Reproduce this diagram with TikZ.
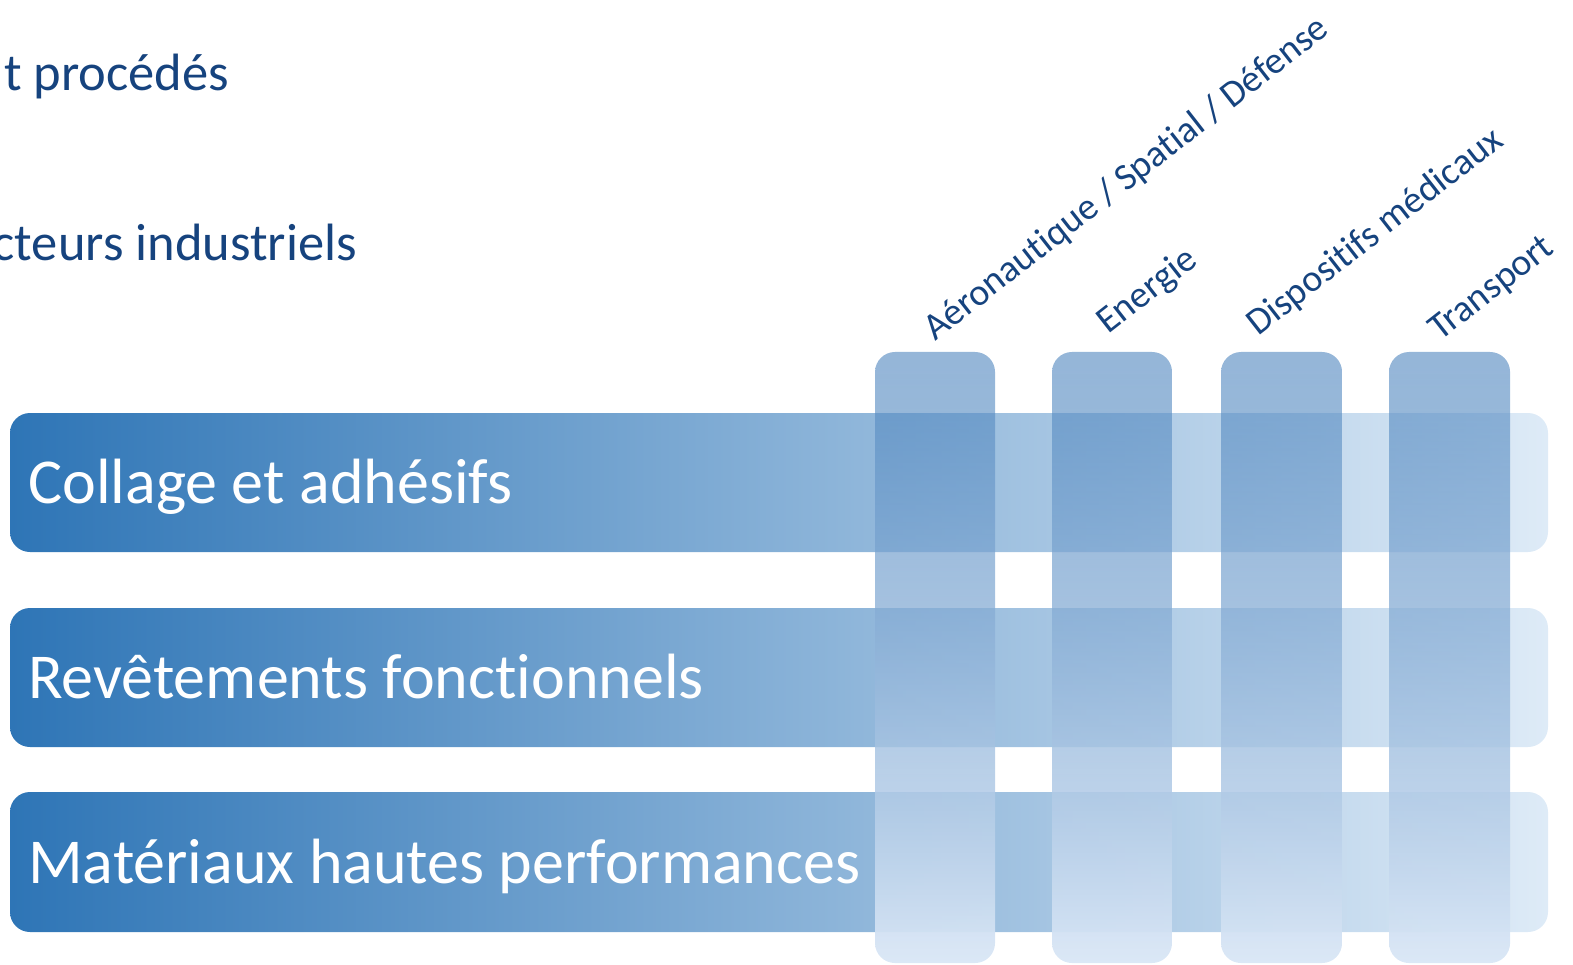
\documentclass[tikz,border=0pt]{standalone}
\usepackage{fontspec}
\setmainfont{Carlito}[Ligatures={NoCommon}]
\usetikzlibrary{fadings}
\definecolor{barL}{HTML}{2E75B6}
\definecolor{barR}{HTML}{DEEBF7}
\definecolor{colT}{RGB}{72,129,188}
\definecolor{colM}{RGB}{124,162,207}
\definecolor{colB}{RGB}{218,231,246}
\definecolor{txtblue}{HTML}{16437E}
\tikzfading[name=colfade, top color=transparent!42, bottom color=transparent!3]
\tikzset{
  barbox/.style={shade, left color=barL, right color=barR, rounded corners=20pt, draw=none},
  colbox/.style={shade, top color=colT, middle color=colM, bottom color=colB, path fading=colfade, rounded corners=20pt, draw=none},
  bartext/.style={text=white, inner sep=0pt, anchor=base west, font=\fontsize{64}{76}\selectfont},
  collabel/.style={text=txtblue, inner sep=0pt, anchor=base west, rotate=38, font=\fontsize{37.8}{45}\selectfont},
  toptext/.style={text=txtblue, inner sep=0pt, anchor=base east, font=\fontsize{52.5}{62}\selectfont},
}
\begin{document}
\begin{tikzpicture}[x=1pt,y=-1pt]
\useasboundingbox (0,0) rectangle (1573,964);
% header texts (clipped at the left edge)
\node[toptext] (h1) at (229,90) {t procédés};
\node[toptext] (h2) at (357,260) {cteurs industriels};
% horizontal bars
\path[barbox] (10,413) rectangle (1548,552);
\path[barbox] (10,608) rectangle (1548,747);
\path[barbox] (10,792) rectangle (1548,932);
\node[bartext] (t1) at (28,503.5) {Collage et adhésifs};
\node[bartext] (t2) at (28,698.5) {Revêtements fonctionnels};
\node[bartext] (t3) at (28,883) {Matériaux hautes performances};
% vertical columns
\path[colbox] (875,352) rectangle (995,963);
\path[colbox] (1052,352) rectangle (1172,963);
\path[colbox] (1221,352) rectangle (1342,963);
\path[colbox] (1389,352) rectangle (1510,963);
% column labels
\node[collabel] (l1) at (935,342) {Aéronautique / Spatial / Défense};
\node[collabel] (l2) at (1108,335) {Energie};
\node[collabel] (l3) at (1258,337) {Dispositifs médicaux};
\node[collabel] (l4) at (1440,342) {Transport};
\end{tikzpicture}
\end{document}
